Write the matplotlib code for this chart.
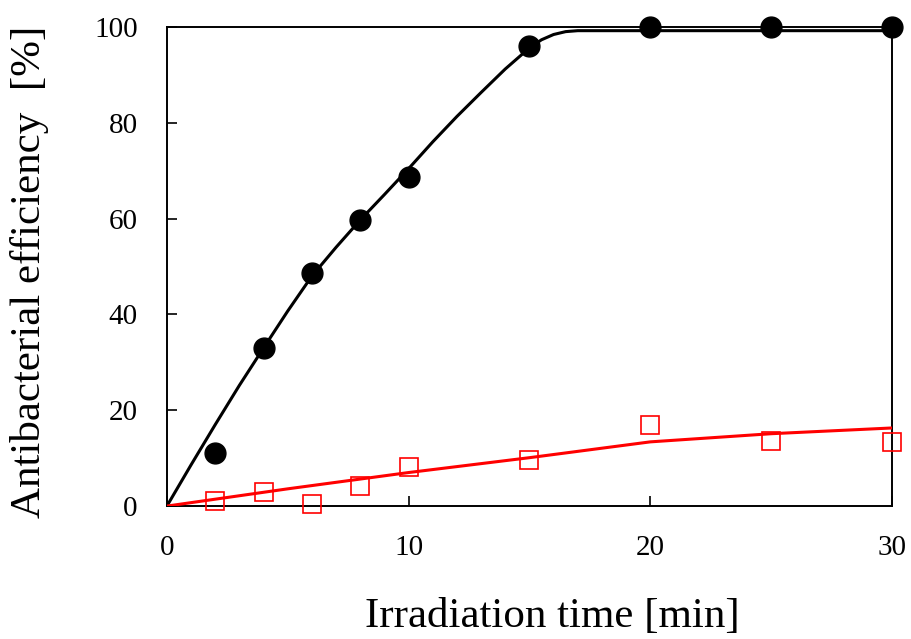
import matplotlib
matplotlib.use("Agg")
import matplotlib.pyplot as plt

# measured points
time_pts = [2, 4, 6, 8, 10, 15, 20, 25, 30]
eff_black = [11.1, 33.0, 48.7, 59.6, 68.7, 95.9, 100.0, 100.0, 100.0]
eff_red = [1.0, 2.9, 0.4, 4.2, 8.2, 9.7, 16.9, 13.6, 13.4]

# fitted curves
fit_t_black = [0, 1, 2, 3, 4, 5, 6, 7, 8, 9, 10, 11, 12, 13, 14, 15,
               15.5, 16, 16.5, 17, 20, 25, 30]
fit_black = [0, 8.6, 17.0, 25.2, 33.0, 40.7, 48.0, 54.0, 59.7, 65.0, 70.4,
             76.0, 81.3, 86.3, 91.2, 95.6, 97.3, 98.4, 99.0, 99.2, 99.2,
             99.2, 99.2]
fit_t_red = [0, 5, 10, 15, 20, 25, 30]
fit_red = [0, 3.6, 7.0, 10.1, 13.4, 15.1, 16.3]

x_ticks = [0, 10, 20, 30]
y_ticks = [0, 20, 40, 60, 80, 100]


def main():
    plt.rcParams["font.family"] = ["Liberation Serif", "DejaVu Serif"]
    fig = plt.figure(figsize=(9.12, 6.39), dpi=100)
    ax = fig.add_axes([0.183, 0.208, 0.795, 0.75])

    ax.plot(fit_t_black, fit_black, color="black", lw=2.2, zorder=3)
    ax.plot(fit_t_red, fit_red, color="red", lw=2.2, zorder=3)
    ax.plot(time_pts, eff_black, "o", color="black", ms=15, zorder=4,
            clip_on=False)
    ax.plot(time_pts, eff_red, "s", mfc="none", mec="red", mew=1.2, ms=13,
            zorder=4, clip_on=False)

    ax.set_xlim(0, 30)
    ax.set_ylim(0, 100)
    ax.set_xticks(x_ticks)
    ax.set_yticks(y_ticks)
    ax.tick_params(direction="in", length=7, width=1.2, labelsize=21,
                   pad=21)
    for s in ax.spines.values():
        s.set_linewidth(1.4)

    ax.set_xlabel("Irradiation time [min]", fontsize=31)
    ax.set_ylabel("Antibacterial efficiency  [%]", fontsize=31)
    # labels sit a bit off-centre in the original
    ax.xaxis.set_label_coords(0.531, -0.19)
    ax.yaxis.set_label_coords(-0.163, 0.488)

    fig.savefig("out.png", dpi=100)


if __name__ == "__main__":
    main()
